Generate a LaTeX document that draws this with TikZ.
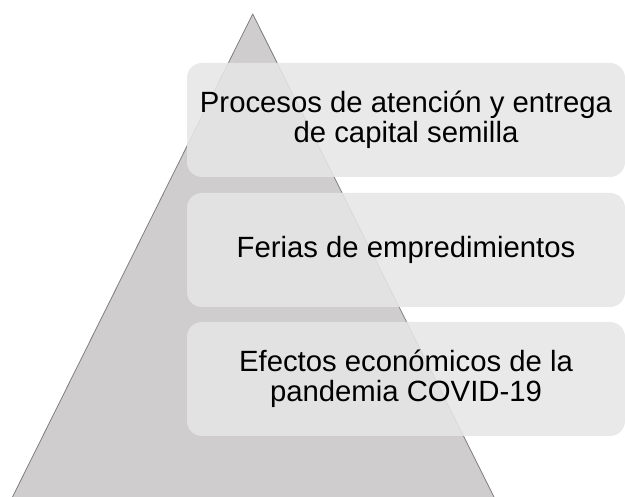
\documentclass[tikz,border=0pt]{standalone}
\usepackage{fontspec}
\setmainfont{Liberation Sans}
\definecolor{trifill}{HTML}{CFCDCE}
\definecolor{triedge}{HTML}{7F7F7F}
\definecolor{boxfill}{HTML}{E6E6E6}
\begin{document}
\begin{tikzpicture}[x=1pt,y=-1pt,
  level/.style={rectangle, rounded corners=15pt, fill=boxfill, fill opacity=0.88, text opacity=1,
    minimum width=438pt, minimum height=114pt, inner sep=0pt, align=center,
    font=\fontsize{29.3}{30}\selectfont, text=black}]
\clip (0,0) rectangle (625,497);
\fill[white] (0,0) rectangle (625,497);
\coordinate (apex) at (252.7,14);
\coordinate (bl) at (10,502);
\coordinate (br) at (496.5,502);
\fill[trifill] (apex) -- (bl) -- (br) -- cycle;
\draw[triedge, line width=0.8pt, line join=round] (bl) -- (apex) -- (br);
\node[level] (b1) at (406,120) {Procesos de atención y entrega\\de capital semilla};
\node[level] (b2) at (406,250) {Ferias de empredimientos};
\node[level] (b3) at (406,379) {Efectos económicos de la\\pandemia COVID-19};
\end{tikzpicture}
\end{document}
